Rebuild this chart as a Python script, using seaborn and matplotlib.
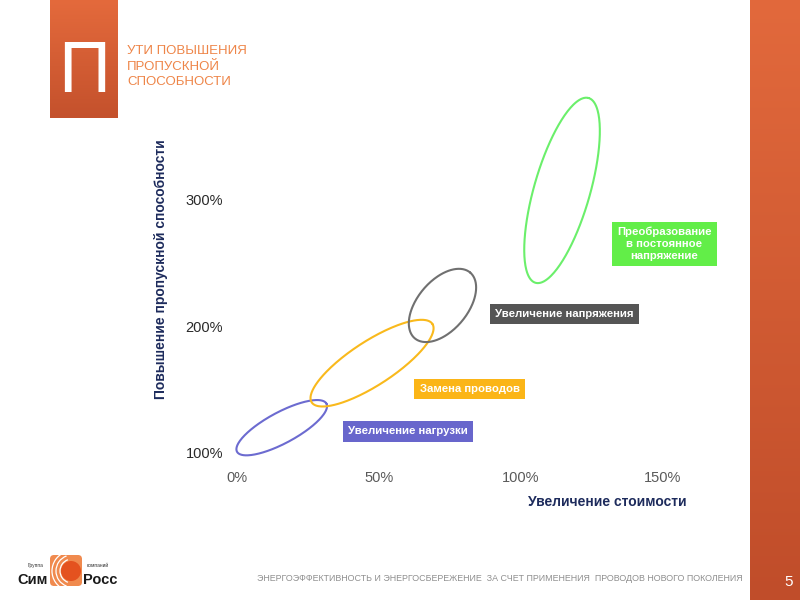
import numpy as np
import pandas as pd
import matplotlib
matplotlib.use("Agg")
import matplotlib.pyplot as plt
import seaborn as sns
from matplotlib.colors import LinearSegmentedColormap
from matplotlib.patches import FancyBboxPatch, Arc, Circle

# Data
methods = [
    "Увеличение нагрузки",
    "Замена проводов",
    "Увеличение напряжения",
    "Преобразование\nв постоянное\nнапряжение",
]
# ends of each method's zone: cost increase (share of base) and capacity (share of base)
cost_low = [0.0, 0.263, 0.626, 1.051]
cost_high = [0.315, 0.688, 0.821, 1.238]
gain_low = [1.01, 1.40, 1.906, 2.345]
gain_high = [1.39, 2.02, 2.426, 3.805]

x_ticks = [0.0, 0.5, 1.0, 1.5]
x_ticklabels = ["0%", "50%", "100%", "150%"]
y_ticks = [1.0, 2.0, 3.0]
y_ticklabels = ["100%", "200%", "300%"]

title_lines = ["УТИ ПОВЫШЕНИЯ", "ПРОПУСКНОЙ", "СПОСОБНОСТИ"]
footer = ("ЭНЕРГОЭФФЕКТИВНОСТЬ И ЭНЕРГОСБЕРЕЖЕНИЕ  ЗА СЧЕТ ПРИМЕНЕНИЯ  "
          "ПРОВОДОВ НОВОГО ПОКОЛЕНИЯ")
page_no = "5"

# Styling
ZONE_COLORS = ["#6c6bd0", "#f9b91c", "#707070", "#6bef6b"]
BOX_COLORS = ["#6866cc", "#fbb517", "#555555", "#62ee48"]
ZONE_HALF_THICK_PX = [15.5, 22, 25, 28]
LABEL_POS = [(0.602, 1.17), (0.819, 1.506), (1.153, 2.099), (1.505, 2.652)]
NAVY = "#1d2b5c"
ORANGE_TEXT = "#ee8548"

sns.set_style("white")
plt.rcParams["font.family"] = ["Liberation Sans", "DejaVu Sans"]

fig = plt.figure(figsize=(8, 6), dpi=100, facecolor="white")

# slide background (pixel coordinates)
bg = fig.add_axes([0, 0, 1, 1], zorder=0)
bg.axis("off")


def gradient_block(x0, x1, y0, y1, top, bottom):
    cmap = LinearSegmentedColormap.from_list("", [top, bottom])
    bg.imshow(np.linspace(0, 1, 256).reshape(-1, 1), cmap=cmap, aspect="auto",
              extent=(x0, x1, y1, y0), interpolation="bicubic")


gradient_block(750, 800, 0, 600, "#e2693c", "#c04d2a")
gradient_block(50, 118, 0, 118, "#e46a3c", "#c4512c")
bg.text(84.5, 92, "П", color="white", fontsize=52, ha="center", va="baseline")
for i, line in enumerate(title_lines):
    bg.text(127, 54 + i * 15.5, line, color=ORANGE_TEXT, fontsize=9.5, va="baseline")
bg.text(743, 581, footer, ha="right", va="baseline", fontsize=6.4, color="#8f8f8f")
bg.text(789, 582, page_no, ha="center", va="center", color="white", fontsize=11)

# logo
bg.text(33, 584, "Сим", fontsize=10.5, fontweight="bold", ha="center", va="baseline", color="#1a1a1a")
bg.text(100.5, 584, "Росс", fontsize=10.5, fontweight="bold", ha="center", va="baseline", color="#1a1a1a")
bg.text(36, 567, "Группа", fontsize=3.5, ha="center", va="baseline", color="#333333")
bg.text(98, 567, "компаний", fontsize=3.5, ha="center", va="baseline", color="#333333")
bg.add_patch(FancyBboxPatch((50, 555), 32, 31, boxstyle="round,pad=0,rounding_size=4",
                            fc="#f08a4e", ec="none"))
bg.add_patch(Circle((71, 571), 10, fc="#e4521f", ec="none"))
for r in (12, 16, 20):
    bg.add_patch(Arc((72, 571), 2 * r, 2 * r, theta1=110, theta2=250, color="white", lw=0.9))
bg.set_xlim(0, 800)
bg.set_ylim(600, 0)

# chart
ax = fig.add_axes([237 / 800, 1 - 453 / 600, 426 / 800, (453 - 86) / 600], zorder=1)
ax.patch.set_alpha(0)
ax.set_xlim(0, 1.5)
ax.set_ylim(1.0, 3.9)


def zone_outline(i, n=240):
    p1 = ax.transData.transform((cost_low[i], gain_low[i]))
    p2 = ax.transData.transform((cost_high[i], gain_high[i]))
    c = (p1 + p2) / 2
    u = (p2 - p1) / 2
    nrm = np.array([-u[1], u[0]]) / np.hypot(*u)
    t = np.linspace(0, 2 * np.pi, n)
    pts = c + np.outer(np.cos(t), u) + np.outer(np.sin(t), nrm * ZONE_HALF_THICK_PX[i])
    return ax.transData.inverted().transform(pts)


frames = []
for i, m in enumerate(methods):
    pts = zone_outline(i)
    frames.append(pd.DataFrame({"method": m, "cost": pts[:, 0], "gain": pts[:, 1]}))
zones = pd.concat(frames, ignore_index=True)

sns.lineplot(data=zones, x="cost", y="gain", hue="method",
             palette=dict(zip(methods, ZONE_COLORS)), sort=False, estimator=None,
             legend=False, linewidth=1.5, ax=ax)
for ln in ax.lines:
    ln.set_clip_on(False)

for i, m in enumerate(methods):
    ax.text(*LABEL_POS[i], m, ha="center", va="center", multialignment="center",
            color="white", fontsize=8.2, fontweight="bold", linespacing=1.25,
            bbox=dict(boxstyle="square,pad=0.45", fc=BOX_COLORS[i], ec="none"))

ax.set_xlim(0, 1.5)
ax.set_ylim(1.0, 3.9)
ax.set_xticks(x_ticks, x_ticklabels)
ax.set_yticks(y_ticks, y_ticklabels)
ax.tick_params(axis="x", length=4, width=0.8, color="#8a8a8a", pad=9,
               labelsize=10.5, labelcolor="#5a5a5a")
ax.tick_params(axis="y", length=0, pad=10, labelsize=10.5, labelcolor="#2a2a2a")
for k in (0, -1):
    ax.xaxis.get_major_ticks()[k].tick1line.set_visible(False)
for s in ax.spines.values():
    s.set_visible(False)

ax.set_xlabel("Увеличение стоимости", fontsize=10, fontweight="bold", color=NAVY,
              ha="right", va="center")
ax.xaxis.set_label_coords(1.056, -0.134)
ax.set_ylabel("Повышение пропускной способности", fontsize=10, fontweight="bold",
              color=NAVY, va="center")
ax.yaxis.set_label_coords(-0.178, 0.5)

fig.savefig("out.png", dpi=100)
